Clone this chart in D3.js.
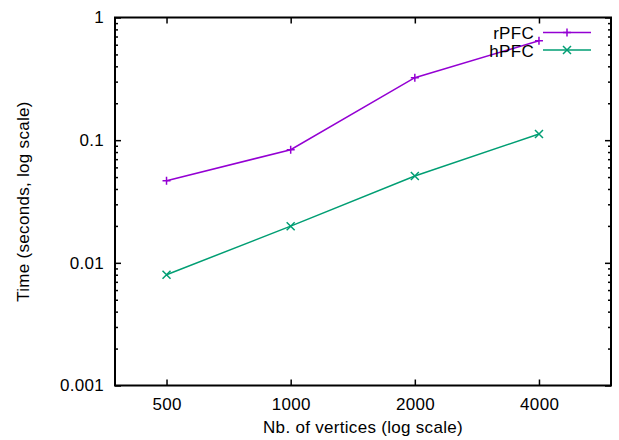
<!DOCTYPE html>
<html>
<head>
<meta charset="utf-8">
<script src="https://cdn.jsdelivr.net/npm/d3@7"></script>
<style>
  html, body { margin: 0; padding: 0; background: #fff; }
  text { font-family: "Liberation Sans", Arial, sans-serif; letter-spacing: 0.3px; }
</style>
</head>
<body>
<svg id="chart" width="619" height="440"></svg>
<script>
const vertices = [500, 1000, 2000, 4000];
const rPFC = [0.0467, 0.0836, 0.323, 0.647];
const hPFC = [0.0080, 0.0199, 0.0511, 0.1122];
const xTicks = [500, 1000, 2000, 4000];
const yTicks = [0.001, 0.01, 0.1, 1];
const yTickLabels = ["0.001", "0.01", "0.1", "1"];
const seriesNames = ["rPFC", "hPFC"];
const seriesColors = ["#9400d3", "#009e73"];

(function () {
const svg = d3.select("#chart");
const pL = 115, pR = 611, pT = 17.5, pB = 385.5;
const FS = 17;

const x = d3.scaleLog().domain([375, 5980]).range([pL, pR]);
const y = d3.scaleLog().domain([0.001, 1]).range([pB, pT]);

const minorY = [];
for (let e = -3; e < 0; e++) {
  for (let k = 2; k <= 9; k++) minorY.push(+(Math.pow(10, e) * k).toPrecision(3));
}

const g = svg.append("g");

const yAxisL = d3.axisLeft(y).tickValues(yTicks).tickFormat((d, i) => yTickLabels[i]).tickSizeInner(-6).tickSizeOuter(0).tickPadding(11);
g.append("g").attr("transform", `translate(${pL},0)`).call(yAxisL);
const yAxisR = d3.axisRight(y).tickValues(yTicks).tickFormat("").tickSizeInner(-6).tickSizeOuter(0);
g.append("g").attr("transform", `translate(${pR},0)`).call(yAxisR);
g.append("g").attr("transform", `translate(${pL},0)`).call(d3.axisLeft(y).tickValues(minorY).tickFormat("").tickSizeInner(-3).tickSizeOuter(0));
g.append("g").attr("transform", `translate(${pR},0)`).call(d3.axisRight(y).tickValues(minorY).tickFormat("").tickSizeInner(-3).tickSizeOuter(0));

const xAxisB = d3.axisBottom(x).tickValues(xTicks).tickFormat(d3.format("d")).tickSizeInner(-6).tickSizeOuter(0).tickPadding(12);
const xb = g.append("g").attr("transform", `translate(0,${pB})`).call(xAxisB);
xb.selectAll(".tick text").attr("dx", 0.15);
const xAxisT = d3.axisTop(x).tickValues(xTicks).tickFormat("").tickSizeInner(-6).tickSizeOuter(0);
g.append("g").attr("transform", `translate(0,${pT})`).call(xAxisT);

g.selectAll(".domain").remove();
g.selectAll(".tick line").attr("stroke", "#000").attr("stroke-width", 1.5);
g.selectAll(".tick text").attr("font-size", FS).attr("fill", "#000").attr("font-family", "Liberation Sans, Arial, sans-serif");

svg.append("rect").attr("x", pL).attr("y", pT).attr("width", pR - pL).attr("height", pB - pT)
  .attr("fill", "none").attr("stroke", "#000").attr("stroke-width", 2);

svg.append("text").attr("x", (pL + pR) / 2).attr("y", 433).attr("text-anchor", "middle")
  .attr("font-size", FS).text("Nb. of vertices (log scale)");
svg.append("text").attr("transform", `translate(29,${(pT + pB) / 2}) rotate(-90)`).attr("text-anchor", "middle")
  .attr("font-size", FS).text("Time (seconds, log scale)");

const line = d3.line().x(d => x(d[0])).y(d => y(d[1]));
function plus(sel, cx, cy, s, color) {
  sel.append("path").attr("d", `M${cx - s},${cy}H${cx + s}M${cx},${cy - s}V${cy + s}`)
    .attr("stroke", color).attr("stroke-width", 1.5).attr("fill", "none");
}
function cross(sel, cx, cy, s, color) {
  sel.append("path").attr("d", `M${cx - s},${cy - s}L${cx + s},${cy + s}M${cx - s},${cy + s}L${cx + s},${cy - s}`)
    .attr("stroke", color).attr("stroke-width", 1.5).attr("fill", "none");
}
const markers = [plus, cross];
const allSeries = [rPFC, hPFC];

allSeries.forEach((vals, i) => {
  const pts = vertices.map((v, j) => [v, vals[j]]);
  svg.append("path").datum(pts).attr("d", line).attr("fill", "none")
    .attr("stroke", seriesColors[i]).attr("stroke-width", 1.5);
  pts.forEach(p => markers[i](svg, x(p[0]), y(p[1]), 4, seriesColors[i]));
});

const legY = [32.5, 50];
seriesNames.forEach((n, i) => {
  svg.append("text").attr("x", 534).attr("y", legY[i] + 6.5).attr("text-anchor", "end")
    .attr("font-size", FS).attr("fill", "#000").text(n);
  svg.append("line").attr("x1", 543).attr("x2", 591).attr("y1", legY[i]).attr("y2", legY[i])
    .attr("stroke", seriesColors[i]).attr("stroke-width", 1.5);
  markers[i](svg, 567, legY[i], 4, seriesColors[i]);
});
})();
</script>
</body>
</html>
